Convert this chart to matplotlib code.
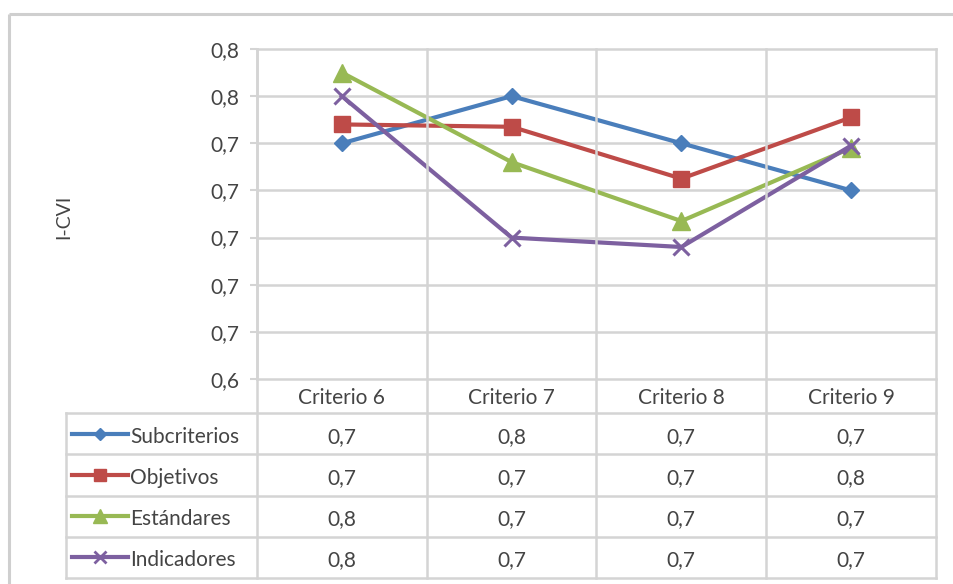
import numpy as np
import matplotlib
matplotlib.use("Agg")
import matplotlib.pyplot as plt
from matplotlib.lines import Line2D

plt.rcParams['font.family'] = ['Lato', 'DejaVu Sans']

# ---- data -------------------------------------------------------------
categories = ["Criterio 6", "Criterio 7", "Criterio 8", "Criterio 9"]
series_names = ["Subcriterios", "Objetivos", "Estándares", "Indicadores"]
subcriterios = [0.740, 0.760, 0.740, 0.720]
objetivos = [0.748, 0.747, 0.725, 0.751]
estandares = [0.770, 0.732, 0.707, 0.738]
indicadores = [0.760, 0.700, 0.696, 0.739]
y_ticks = [0.64, 0.66, 0.68, 0.70, 0.72, 0.74, 0.76, 0.78]
y_label = "I-CVI"

series_values = [subcriterios, objetivos, estandares, indicadores]
colors = ["#4A7EBB", "#BE4B48", "#98B954", "#7D60A0"]
markers = ["D", "s", "^", "x"]
msizes = [8.5, 12, 12.5, 11]
legend_msizes = [6.5, 9, 9.5, 8.5]

def fmt(v):
    return f"{v:.1f}".replace(".", ",")

W, H = 954, 584
FS = 15
fig = plt.figure(figsize=(W / 100, H / 100), dpi=100)
grid_c = "#D4D4D4"
text_c = "#444444"

# pixel layout of the plot area
L, R, T, B = 257, 936, 49, 379
ax = fig.add_axes([L / W, 1 - B / H, (R - L) / W, (B - T) / H])
ax.set_xlim(-0.5, len(categories) - 0.5)
ax.set_ylim(y_ticks[0], y_ticks[-1])
ax.set_yticks(y_ticks)
ax.set_yticklabels([fmt(t) for t in y_ticks], fontsize=FS, color=text_c)
ax.tick_params(axis="y", length=5, width=1.5, color=grid_c, pad=8)
ax.set_xticks([])
for s in ax.spines.values():
    s.set_color(grid_c)
    s.set_linewidth(1.8)
ax.spines["right"].set_visible(False)
for t in y_ticks[1:-1]:
    ax.axhline(t, color=grid_c, lw=1.8, zorder=0)

x = np.arange(len(categories))
for vals, c, m, ms in zip(series_values, colors, markers, msizes):
    ax.plot(x, vals, color=c, lw=3, marker=m, markersize=ms,
            markeredgewidth=2.2 if m == "x" else 1, markeredgecolor=c,
            markerfacecolor=c, zorder=3, clip_on=False)

ax.text(-0.285, 0.49, y_label, transform=ax.transAxes, rotation=90,
        ha="center", va="center", fontsize=FS - 1, color=text_c)

# ---- data table below the plot, in pixel coordinates ------------------
ov = fig.add_axes([0, 0, 1, 1])
ov.set_xlim(0, W)
ov.set_ylim(H, 0)
ov.axis("off")
ov.patch.set_alpha(0)

# outer chart frame
ov.plot([9, W], [14, 14], color="#CFCFCF", lw=2.2, solid_capstyle="butt")
ov.plot([9, 9], [14, H], color="#CFCFCF", lw=2.2, solid_capstyle="butt")

col_w = (R - L) / len(categories)
col_edges = [L + i * col_w for i in range(len(categories) + 1)]
row_top = [413 + i * 41.25 for i in range(len(series_names) + 1)]
leg_left = 66

for xe in col_edges:
    ov.plot([xe, xe], [T, row_top[-1]], color=grid_c, lw=1.8, zorder=0)
ov.plot([leg_left, leg_left], [row_top[0], row_top[-1]], color=grid_c, lw=1.8)
for yr in row_top:
    ov.plot([leg_left, R], [yr, yr], color=grid_c, lw=1.8)

for j, cat in enumerate(categories):
    ov.text(col_edges[j] + col_w / 2, (B + row_top[0]) / 2 + 2, cat,
            ha="center", va="center", fontsize=FS, color=text_c)

for i, (name, vals, c, m, lms) in enumerate(zip(series_names, series_values,
                                                 colors, markers, legend_msizes)):
    yc = (row_top[i] + row_top[i + 1]) / 2
    ov.add_line(Line2D([72, 128], [yc, yc], color=c, lw=3))
    ov.add_line(Line2D([100], [yc], color=c, marker=m, markersize=lms,
                       markeredgewidth=2 if m == "x" else 1,
                       markeredgecolor=c, markerfacecolor=c))
    ov.text(130, yc + 3, name, ha="left", va="center", fontsize=FS, color=text_c)
    for j, v in enumerate(vals):
        ov.text(col_edges[j] + col_w / 2, yc + 3, fmt(v),
                ha="center", va="center", fontsize=FS, color=text_c)

fig.savefig("out.png", dpi=100, facecolor="white")
